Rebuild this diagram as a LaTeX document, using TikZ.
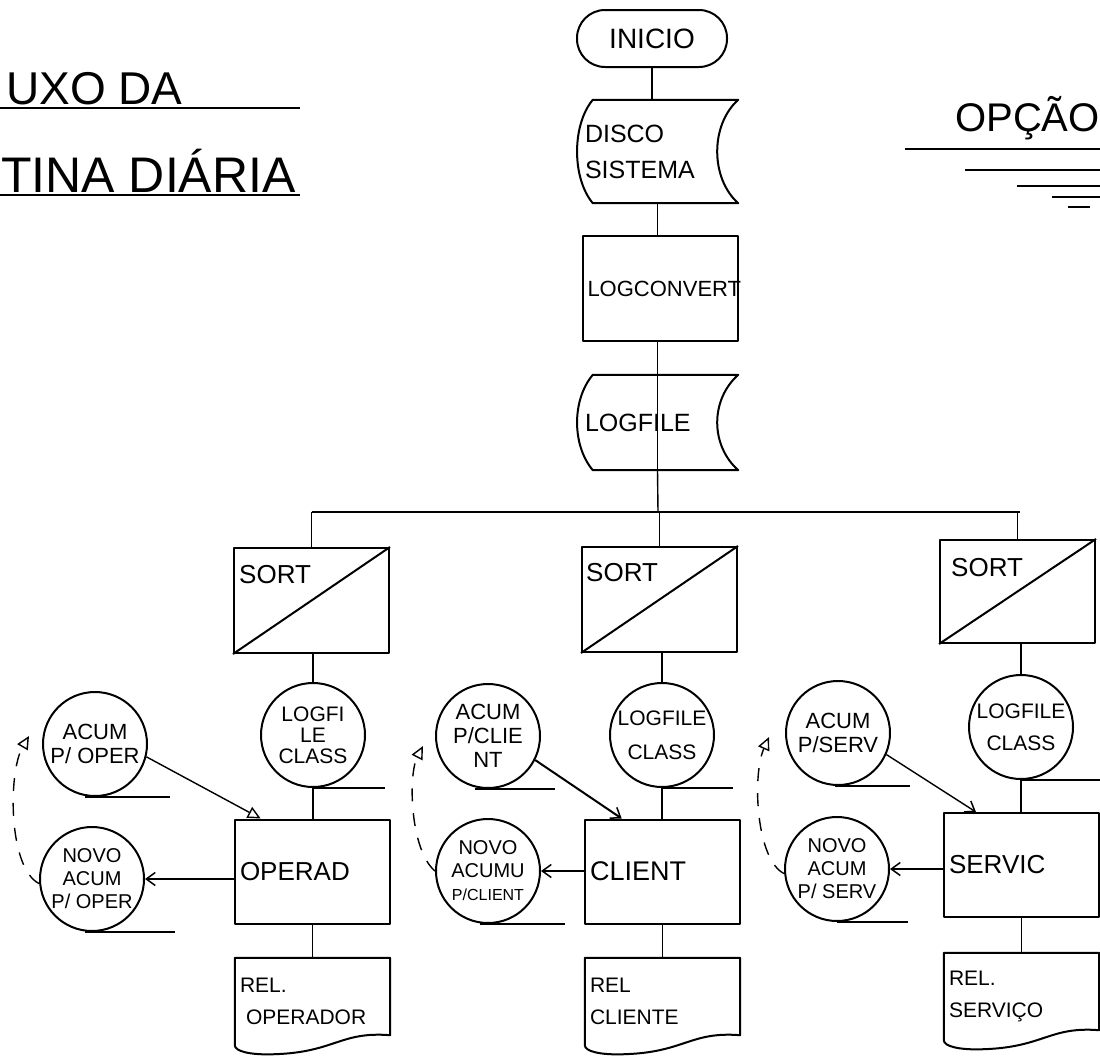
\documentclass[tikz,border=0pt]{standalone}
\usepackage{fontspec}
\setmainfont{Liberation Sans}
\usetikzlibrary{calc,arrows.meta}
\newcommand\myfs[2]{\fontsize{#1}{#2}\selectfont}
\newcommand\storepath[1]{\draw[frame] ($(#1.north west)+(16,0)$) -- (#1.north east) .. controls +(-28,25) and +(-28,-25) .. (#1.south east) -- ($(#1.south west)+(16,0)$) .. controls +(-21,-25) and +(-21,25) .. ($(#1.north west)+(16,0)$) -- cycle;}
\newcommand\docpath[1]{\draw[frame] (#1.south west) -- (#1.north west) -- (#1.north east) -- ($(#1.south east)+(0,-10)$) .. controls +(-50,-4) and +(60,-2) .. ($(#1.south west)+(40,9)$) .. controls +(-25,1) and +(0,6) .. (#1.south west);}
\begin{document}
\begin{tikzpicture}[x=1pt,y=-1pt,
  frame/.style={line width=2pt, line join=round},
  link/.style={line width=1.4pt},
  heavylink/.style={line width=2pt},
  term/.style={draw, frame, rectangle, rounded corners=28pt, minimum width=150pt, minimum height=57pt, inner sep=0pt, font=\myfs{28}{32}},
  store/.style={rectangle, minimum width=161pt, inner sep=0pt, text width=145pt, align=left, font=\myfs{25}{36}},
  proc/.style={draw, frame, rectangle, minimum width=155pt, minimum height=104pt, inner sep=0pt, text width=145pt, align=left, font=\myfs{26}{30}},
  sortbox/.style={draw, frame, rectangle, minimum width=155pt, minimum height=105pt, inner sep=0pt},
  docn/.style={rectangle, minimum width=155pt, minimum height=87pt, inner sep=0pt, text width=145pt, align=left, font=\myfs{21}{32}},
  tape/.style={circle, draw, frame, minimum size=104pt, inner sep=0pt, align=center, font=\myfs{22}{24}},
  lbl/.style={inner sep=0pt, font=\myfs{26}{28}},
  title/.style={inner sep=0pt},
  dashline/.style={line width=1.4pt, dash pattern=on 13pt off 12pt},
  opentip/.style={-{Triangle[open,length=13pt,width=12pt,line width=1.4pt]}},
  barbtip/.style={-{Straight Barb[length=9pt,width=13pt,line width=1.5pt]}}
]
\fill[white] (0,0) rectangle (1100,1060);
\useasboundingbox (0,0) rectangle (1100,1060);

% titles
\node[title, anchor=base west, font=\myfs{46}{50}] (t1) at (6,104) {UXO DA};
\node[title, anchor=base west, font=\myfs{50}{54}] (t2) at (1,192) {TINA DIÁRIA};
\node[title, anchor=base west, font=\myfs{40}{44}] (t3) at (955,131) {OPÇÃO};
\draw[link] (0,108) -- (300,108);
\draw[link] (0,195) -- (300,195);
\draw[link] (905,149) -- (1100,149);
\draw[link] (965,170) -- (1100,170);
\draw[link] (1017,186) -- (1100,186);
\draw[link] (1052,197) -- (1100,197);
\draw[link] (1068,207) -- (1090,207);

% main spine
\node[term] (inicio) at (652,38.5) {INICIO};
\node[store, minimum height=103pt] (disco) at (657.5,151.5) {DISCO\\SISTEMA};
\storepath{disco}
\node[proc, minimum height=105pt, font=\myfs{22}{26}] (logconv) at (660,288.5) {LOGCONVERT};
\node[store, minimum height=95pt] (logfile) at (657.5,422.5) {LOGFILE};
\storepath{logfile}
\draw[link] (inicio.south) -- (inicio.south |- disco.north);
\draw[link] (disco.south) -- (disco.south |- logconv.north);
\draw[link] (logconv.south -| logfile.south) -- (logfile.south);

% distribution bar
\coordinate (barC) at (658,512);
\coordinate (barL) at (311.5,512);
\coordinate (barR) at (1020,512);
\draw[link] (logfile.south) -- (barC);
\draw[heavylink] (barL) -- (barR);

% sort boxes
\node[sortbox] (sort1) at (311.5,600.5) {};
\node[sortbox] (sort2) at (659.5,599.5) {};
\node[sortbox, minimum height=103pt] (sort3) at (1017.5,591.5) {};
\foreach \s in {sort1,sort2,sort3}{\draw[frame] (\s.south west) -- (\s.north east);}
\node[lbl, anchor=west] (sort1t) at (239,575) {SORT};
\node[lbl, anchor=west] (sort2t) at (586,573) {SORT};
\node[lbl, anchor=west] (sort3t) at (951,568) {SORT};
\draw[link] (barL) -- (sort1.north);
\draw[link] (barC -| sort2.north) -- (sort2.north);
\draw[link] (barR -| sort3.north) -- (sort3.north);

% classified logfiles
\node[tape, font=\myfs{21}{21}] (class1) at (313,735) {LOGFI\\LE\\CLASS};
\node[tape, font=\myfs{21}{34}] (class2) at (662,735) {LOGFILE\\CLASS};
\node[tape, font=\myfs{21}{32}] (class3) at (1021,727) {LOGFILE\\CLASS};
\draw[frame] (class1.south) -- +(72,0);
\draw[frame] (class2.south) -- +(71,0);
\draw[frame] (class3.south) -- +(79,0);
\draw[link] (sort1.south -| class1.north) -- (class1.north);
\draw[link] (sort2.south -| class2.north) -- (class2.north);
\draw[link] (sort3.south -| class3.north) -- (class3.north);

% processes
\node[proc] (oper) at (312.5,871.5) {OPERAD};
\node[proc, font=\myfs{27}{30}] (client) at (662.5,871.5) {CLIENT};
\node[proc] (servic) at (1021.5,865) {SERVIC};
\draw[link] (class1.south) -- (class1.south |- oper.north);
\draw[link] (class2.south) -- (class2.south |- client.north);
\draw[link] (class3.south) -- (class3.south |- servic.north);

% reports
\node[docn] (rel1) at (312.5,1001.5) {REL.\\\hspace*{6pt}OPERADOR};
\node[docn] (rel2) at (662.5,1001.5) {REL\\CLIENTE};
\node[docn] (rel3) at (1021.5,996.5) {REL.\\SERVIÇO};
\docpath{rel1}
\docpath{rel2}
\docpath{rel3}
\draw[link] (oper.south) -- (oper.south |- rel1.north);
\draw[link] (client.south) -- (client.south |- rel2.north);
\draw[link] (servic.south) -- (servic.south |- rel3.north);

% accumulators
\node[tape] (acum1) at (95,744) {ACUM\\P/ OPER};
\node[tape, font=\myfs{20}{23}] (novo1) at (92,879) {NOVO\\ACUM\\P/ OPER};
\node[tape] (acum2) at (488,736) {ACUM\\P/CLIE\\NT};
\node[tape, font=\myfs{20}{23}] (novo2) at (488,871) {NOVO\\ACUMU\\{\myfs{16}{19}P/CLIENT}};
\node[tape] (acum3) at (838,733) {ACUM\\P/SERV};
\node[tape, font=\myfs{20}{23}] (novo3) at (837,869) {NOVO\\ACUM\\P/ SERV};
\draw[frame] ($(acum1.south)+(-10,0)$) -- +(85,0);
\draw[frame] ($(novo1.south)+(-7,0)$) -- +(90,0);
\draw[frame] ($(acum2.south)+(-13,0)$) -- +(80,0);
\draw[frame] ($(novo2.south)+(-8,0)$) -- +(85,0);
\draw[frame] ($(acum3.south)+(-3,0)$) -- +(75,0);
\draw[frame] (novo3.south) -- +(71,0);

% flows accumulator -> process
\draw[link, opentip] (acum1.-14) -- ($(oper.north west)!0.17!(oper.north east)$);
\draw[heavylink, barbtip] (acum2.-27) -- ($(client.north west)!0.24!(client.north east)$);
\draw[link, barbtip] (acum3.-24) -- ($(servic.north west)!0.21!(servic.north east)$);

% flows process -> new accumulator
\draw[link, barbtip] (novo1.east -| oper.west) -- (novo1.east);
\draw[link, barbtip] (novo2.east -| client.west) -- (novo2.east);
\draw[link, barbtip] (novo3.east -| servic.west) -- (novo3.east);

% dashed feedback
\draw[dashline, opentip] (novo1.185) .. controls (8,868) and (8,772) .. ($(acum1.west)+(-13,-8)$);
\draw[dashline, opentip] (novo2.west) .. controls (410,850) and (408,775) .. ($(acum2.west)+(-12,10)$);
\draw[dashline, opentip] (novo3.185) .. controls (756,860) and (752,775) .. ($(acum3.west)+(-16,4)$);
\end{tikzpicture}
\end{document}
